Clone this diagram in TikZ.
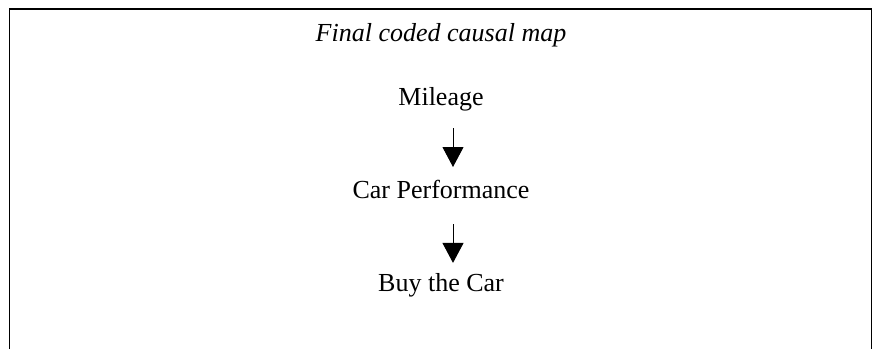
\documentclass[tikz,border=0pt]{standalone}
\usepackage{fontspec}
\setmainfont{Liberation Serif}
\usetikzlibrary{arrows.meta}
\tikzset{
  mapnode/.style={anchor=base,inner sep=0pt,font=\fontsize{13}{15.6}\selectfont},
  causal/.style={line width=0.5pt,-{Triangle[width=10.5pt,length=10pt]}}
}
\begin{document}
\begin{tikzpicture}[x=0.5pt,y=0.5pt,yscale=-1,xscale=1]
	\path[use as bounding box] (0,0) rectangle (873,349); %diagram is 873 wide and 349 high
	
	%Frame, open at the bottom
	\draw[line width=0.8pt]    (9.5,349) -- (9.5,9) -- (871.5,9) -- (871.5,349) ;
	
	%Title
	\node[mapnode,font=\fontsize{13}{15.6}\selectfont\itshape] (title) at (441,41.5) {Final coded causal map};
	
	%Concepts
	\node[mapnode] (mileage) at (441,105) {Mileage};
	\node[mapnode] (perf) at (441,198) {Car Performance};
	\node[mapnode] (buy) at (441,291.5) {Buy the Car};
	
	%Arrows (yshift follows yscale=-1, so positive is downwards)
	\draw[causal]    ([xshift=6pt,yshift=11.5pt]mileage.base) -- ([xshift=6pt,yshift=-15.5pt]perf.base) ;
	\draw[causal]    ([xshift=6pt,yshift=13pt]perf.base) -- ([xshift=6pt,yshift=-14.3pt]buy.base) ;
	
\end{tikzpicture}
\end{document}
